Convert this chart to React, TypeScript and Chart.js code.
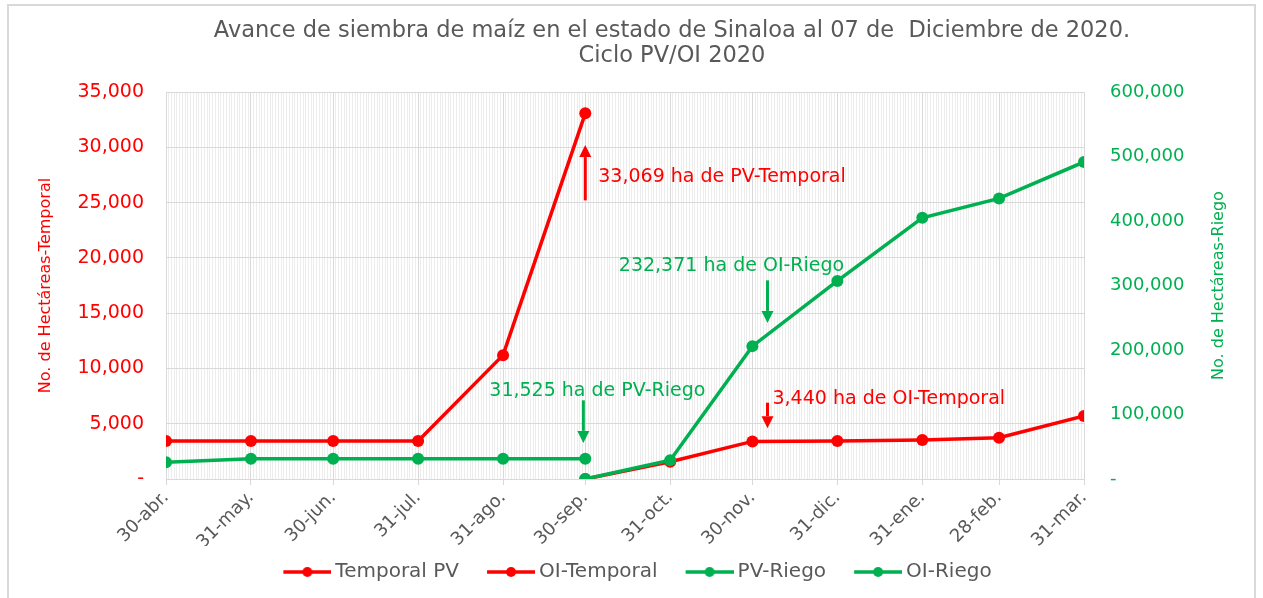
import React, { useEffect, useRef } from 'react';
import { Chart, registerables } from 'chart.js';

Chart.register(...registerables);

// ---- data ----
const dates = [
  '2020-04-30', '2020-05-31', '2020-06-30', '2020-07-31', '2020-08-31', '2020-09-30',
  '2020-10-31', '2020-11-30', '2020-12-31', '2021-01-31', '2021-02-28', '2021-03-31',
];
const tickLabels = [
  '30-abr.', '31-may.', '30-jun.', '31-jul.', '31-ago.', '30-sep.',
  '31-oct.', '30-nov.', '31-dic.', '31-ene.', '28-feb.', '31-mar.',
];
const temporalPV = [3440, 3440, 3440, 3440, 11200, 33069, null, null, null, null, null, null];
const oiTemporal = [null, null, null, null, null, 0, 1560, 3400, 3440, 3530, 3730, 5700];
const pvRiego = [26000, 31525, 31525, 31525, 31525, 31525, null, null, null, null, null, null];
const oiRiego = [null, null, null, null, null, 0, 29000, 206000, 307000, 405000, 435000, 491500];
const leftTicks = [0, 5000, 10000, 15000, 20000, 25000, 30000, 35000];
const rightTicks = [0, 100000, 200000, 300000, 400000, 500000, 600000];

const titleLines = [
  'Avance de siembra de maíz en el estado de Sinaloa al 07 de  Diciembre de 2020.',
  'Ciclo PV/OI 2020',
];
const leftTitle = 'No. de Hectáreas-Temporal';
const rightTitle = 'No. de Hectáreas-Riego';

const RED = '#FF0000';
const GREEN = '#00B050';
const GREY = '#595959';
const FONT = "'DejaVu Sans', sans-serif";

const DAY = 86400000;
const dayOffsets = dates.map((d) => (Date.parse(d) - Date.parse(dates[0])) / DAY);
const allDays: number[] = [];
for (let d = 0; d <= dayOffsets[dayOffsets.length - 1]; d++) allDays.push(d);

const toPoints = (vals: (number | null)[]) =>
  vals
    .map((v, i) => (v === null ? null : { x: dayOffsets[i], y: v }))
    .filter((p) => p !== null) as { x: number; y: number }[];

const fmt = (v: number) => (v === 0 ? '-' : v.toLocaleString('en-US'));

// legend symbol: short line with a dot; extra blank space on the left acts as item spacing
function legendIcon(color: string) {
  const c = document.createElement('canvas');
  c.width = 66;
  c.height = 14;
  const ctx = c.getContext('2d')!;
  ctx.strokeStyle = color;
  ctx.lineWidth = 3.5;
  ctx.beginPath();
  ctx.moveTo(18, 7);
  ctx.lineTo(66, 7);
  ctx.stroke();
  ctx.fillStyle = color;
  ctx.beginPath();
  ctx.arc(42, 7, 5, 0, Math.PI * 2);
  ctx.fill();
  return c;
}

// annotations anchored on the scales
const annotations = [
  { text: '33,069 ha de PV-Temporal', color: RED, axis: 'y', ax: dayOffsets[5], from: 25200, to: 30200, textDx: 13, textY: 27300, align: 'left' },
  { text: '232,371 ha de OI-Riego', color: GREEN, axis: 'y1', ax: 219.5, from: 308000, to: 242000, textDx: -36, textY: 330000, align: 'center' },
  { text: '31,525 ha de PV-Riego', color: GREEN, axis: 'y1', ax: 152.3, from: 122000, to: 56000, textDx: 14, textY: 136000, align: 'center' },
  { text: '3,440 ha de OI-Temporal', color: RED, axis: 'y', ax: 219.5, from: 6900, to: 4600, textDx: 5, textY: 7250, align: 'left' },
];

const annotationPlugin = {
  id: 'annotationsAndTitles',
  afterDatasetsDraw(chart: any) {
    const { ctx } = chart;
    const xs = chart.scales.x;
    ctx.save();
    for (const a of annotations) {
      const ys = chart.scales[a.axis];
      const x = xs.getPixelForValue(a.ax);
      const y0 = ys.getPixelForValue(a.from);
      const y1 = ys.getPixelForValue(a.to);
      ctx.strokeStyle = a.color;
      ctx.fillStyle = a.color;
      ctx.lineWidth = 3;
      const dir = y1 < y0 ? -1 : 1;
      const head = 12;
      ctx.beginPath();
      ctx.moveTo(x, y0);
      ctx.lineTo(x, y1 - dir * head);
      ctx.stroke();
      ctx.beginPath();
      ctx.moveTo(x - 6, y1 - dir * head);
      ctx.lineTo(x + 6, y1 - dir * head);
      ctx.lineTo(x, y1);
      ctx.closePath();
      ctx.fill();
      ctx.font = `19px ${FONT}`;
      ctx.textAlign = a.align as CanvasTextAlign;
      ctx.textBaseline = 'middle';
      ctx.fillText(a.text, x + a.textDx, ys.getPixelForValue(a.textY));
    }
    // chart title (two lines)
    ctx.font = `22.5px ${FONT}`;
    ctx.fillStyle = GREY;
    ctx.textAlign = 'center';
    ctx.textBaseline = 'middle';
    titleLines.forEach((line, i) => ctx.fillText(line, 672, 31 + i * 25));
    // right axis title (reads bottom to top)
    const r = chart.scales.y1;
    ctx.translate(1219, (r.top + r.bottom) / 2);
    ctx.rotate(-Math.PI / 2);
    ctx.font = `16px ${FONT}`;
    ctx.fillStyle = GREEN;
    ctx.fillText(rightTitle, 0, 0);
    ctx.restore();
  },
};

const lineDataset = (label: string, vals: (number | null)[], axis: string, color: string, order: number) => ({
  label,
  data: toPoints(vals),
  yAxisID: axis,
  borderColor: color,
  backgroundColor: color,
  pointBackgroundColor: color,
  pointBorderColor: color,
  borderWidth: 3.5,
  pointRadius: 6,
  pointBorderWidth: 0,
  order,
});

export default function App() {
  const ref = useRef<HTMLCanvasElement>(null);
  useEffect(() => {
    const chart = new Chart(ref.current!, {
      type: 'line',
      data: {
        datasets: [
          lineDataset('Temporal PV', temporalPV, 'y', RED, 1),
          lineDataset('OI-Temporal', oiTemporal, 'y', RED, 1),
          lineDataset('PV-Riego', pvRiego, 'y1', GREEN, 0),
          lineDataset('OI-Riego', oiRiego, 'y1', GREEN, 0),
        ],
      } as any,
      options: {
        animation: false,
        responsive: true,
        maintainAspectRatio: false,
        layout: { padding: { left: 0, right: 0, top: 92, bottom: 6 } },
        elements: { line: { tension: 0 } },
        plugins: {
          title: { display: false },
          legend: {
            position: 'bottom',
            labels: {
              usePointStyle: true,
              pointStyleWidth: 54,
              color: GREY,
              font: { family: FONT, size: 20 },
              padding: 16,
              sort: (a: any, b: any) => a.datasetIndex - b.datasetIndex,
              generateLabels: (chart: any) =>
                chart.data.datasets.map((ds: any, i: number) => ({
                  text: ds.label,
                  datasetIndex: i,
                  pointStyle: legendIcon(ds.borderColor),
                  fillStyle: ds.borderColor,
                  strokeStyle: ds.borderColor,
                  fontColor: GREY,
                  lineWidth: 0,
                  hidden: false,
                })),
            },
          },
          tooltip: { enabled: false },
        },
        scales: {
          x: {
            type: 'linear',
            min: 0,
            max: dayOffsets[dayOffsets.length - 1],
            afterBuildTicks: (s: any) => {
              s.ticks = dayOffsets.map((v) => ({ value: v }));
            },
            afterFit: (s: any) => {
              s.height = 67;
            },
            ticks: {
              autoSkip: false,
              maxRotation: 45,
              minRotation: 45,
              color: GREY,
              font: { family: FONT, size: 18 },
              padding: 2,
              callback: (_v: any, i: number) => tickLabels[i],
            },
            grid: { color: '#d9d9d9', lineWidth: 1, tickLength: 6 },
            border: { color: '#d9d9d9' },
          },
          xMinor: {
            type: 'linear',
            position: 'bottom',
            min: 0,
            max: dayOffsets[dayOffsets.length - 1],
            afterBuildTicks: (s: any) => {
              s.ticks = allDays.map((v) => ({ value: v }));
            },
            afterFit: (s: any) => {
              s.height = 0;
            },
            ticks: { display: false },
            grid: { color: '#ececec', lineWidth: 1, drawTicks: false, z: -2 } as any,
            border: { display: false },
          },
          y: {
            type: 'linear',
            position: 'left',
            min: 0,
            max: 35000,
            afterBuildTicks: (s: any) => {
              s.ticks = leftTicks.map((v) => ({ value: v }));
            },
            afterFit: (s: any) => {
              s.width = 166;
            },
            ticks: { color: RED, font: { family: FONT, size: 19 }, padding: 22, callback: (v: any) => fmt(Number(v)) },
            grid: { color: '#d9d9d9', drawTicks: false },
            border: { display: false },
            title: {
              display: true,
              text: leftTitle,
              color: RED,
              font: { family: FONT, size: 16 },
              padding: { top: 36, bottom: 0 },
            },
          },
          y1: {
            type: 'linear',
            position: 'right',
            min: 0,
            max: 600000,
            afterBuildTicks: (s: any) => {
              s.ticks = rightTicks.map((v) => ({ value: v }));
            },
            afterFit: (s: any) => {
              s.width = 179;
            },
            ticks: { color: GREEN, font: { family: FONT, size: 18 }, padding: 26, callback: (v: any) => fmt(Number(v)) },
            grid: { drawOnChartArea: false, drawTicks: false },
            border: { display: false },
          },
        } as any,
      },
      plugins: [annotationPlugin],
    });
    return () => chart.destroy();
  }, []);

  return (
    <div style={{ position: 'absolute', left: 0, top: 0, width: 1263, height: 598, background: '#fff', overflow: 'hidden' }}>
      <div style={{ position: 'absolute', left: 7, top: 4, width: 1249, height: 620, border: '2px solid #d9d9d9', boxSizing: 'border-box' }} />
      <div style={{ position: 'absolute', left: 0, top: 0, width: 1263, height: 598 }}>
        <canvas ref={ref} />
      </div>
    </div>
  );
}
